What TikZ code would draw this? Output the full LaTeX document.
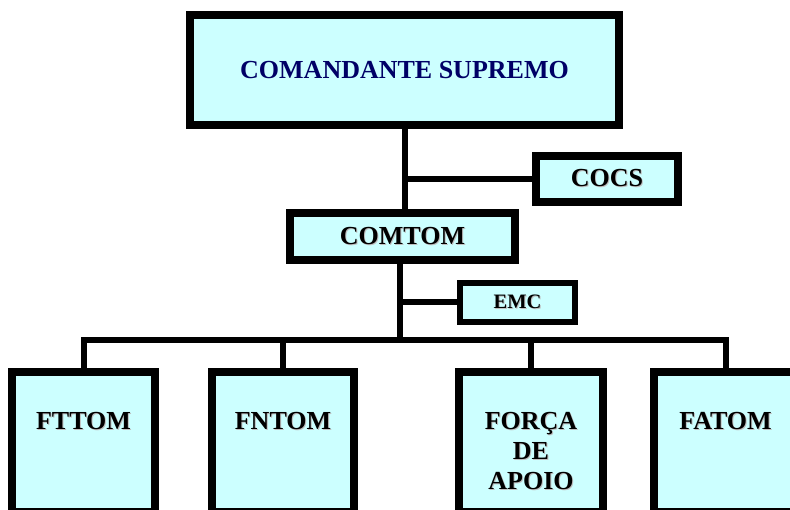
\documentclass[tikz,border=0pt]{standalone}
\usepackage{fontspec}
\setmainfont{Liberation Serif}
\definecolor{boxfill}{HTML}{CCFFFF}
\definecolor{navytext}{RGB}{0,0,102}
\newcommand\shd[1]{\rlap{\kern1pt\raisebox{-1pt}{\textcolor{black!25}{#1}}}#1}
\begin{document}
\begin{tikzpicture}[x=1pt,y=-1pt,
  box/.style={draw=black, fill=boxfill, inner sep=0pt, line width=8pt,
    font=\bfseries\fontsize{26}{30}\selectfont},
  lowbox/.style={box, minimum height=140pt, text height=58pt, text depth=82pt},
  conn/.style={line width=6pt}]
\useasboundingbox (0,0) rectangle (790,510);
\clip (0,0) rectangle (790,510);

% nodes
\node[box, minimum width=429pt, minimum height=110pt, text=navytext] (top) at (404.5,70) {COMANDANTE SUPREMO};
\node[box, minimum width=142pt, minimum height=46pt] (cocs) at (607,179) {\shd{COCS}};
\node[box, line width=7.5pt, minimum width=225pt, minimum height=47pt] (comtom) at (402.5,236.5) {\shd{COMTOM}};
\node[box, line width=6pt, minimum width=115pt, minimum height=39pt,
  font=\bfseries\fontsize{20.5}{24}\selectfont] (emc) at (517.5,302.5) {\shd{EMC}};
\node[lowbox, minimum width=143pt] (ft) at (83.5,442) {\shd{FTTOM}};
\node[lowbox, minimum width=142pt] (fn) at (283,442) {\shd{FNTOM}};
\node[lowbox, minimum width=144pt] (fo) at (531,442) {\begin{tabular}[t]{@{}c@{}}\shd{FORÇA}\\\shd{DE}\\\shd{APOIO}\end{tabular}};
\node[lowbox, minimum width=143pt] (fa) at (725.5,442) {\shd{FATOM}};

% connectors
\coordinate (bus) at (0,340);
\coordinate (t2) at ([xshift=-2.5pt]comtom.south);
\draw[conn] (top.south) -- (comtom.north -| top.south);
\draw[conn] (top.south |- cocs.west) -- (cocs.west);
\draw[conn] (t2) -- (t2 |- bus);
\draw[conn] (t2 |- emc.west) -- (emc.west);
\draw[conn] (ft.north) -- (ft.north |- bus) -- (fa.north |- bus) -- (fa.north);
\draw[conn] (fn.north) -- (fn.north |- bus);
\draw[conn] (fo.north) -- (fo.north |- bus);
\end{tikzpicture}
\end{document}
